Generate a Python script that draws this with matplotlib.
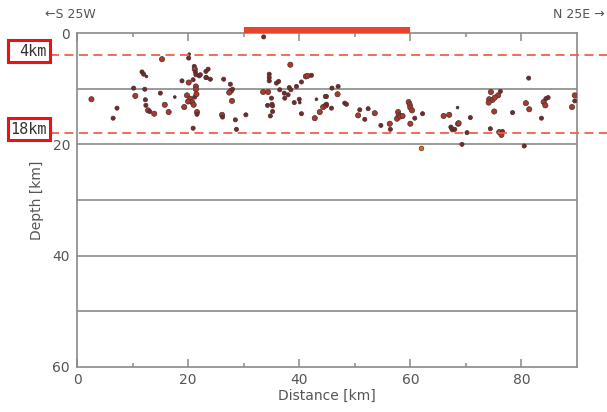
import numpy as np
import matplotlib
matplotlib.use("Agg")
import matplotlib.pyplot as plt
from matplotlib.patches import Rectangle

# hypocentres: distance [km], depth [km], size class (1 small .. 3 large)
dist = [2.6, 6.5, 7.2, 11.7, 12.0, 12.5, 10.2, 10.5, 12.2, 12.3, 12.4, 12.8, 13.1, 13.9,
        15.3, 15.0, 15.8, 16.5, 17.6, 18.9, 19.3, 20.2, 20.1, 21.1, 21.2, 21.3, 21.4,
        22.0, 20.1, 20.9, 21.4, 21.4, 19.8, 20.4, 20.7, 21.0, 21.2, 21.5, 20.0, 21.6,
        21.6, 20.9, 23.2, 23.2,
        22.2, 23.6, 23.3, 24.0, 26.4, 27.6, 27.7, 28.0, 27.4, 27.9, 26.1, 26.2, 28.5,
        28.7, 30.4, 33.6, 33.5, 34.4, 34.6, 34.6, 34.6, 35.0, 35.1, 35.2, 35.2, 34.3,
        34.8, 35.9, 36.3, 36.5, 37.3, 37.4, 38.0, 38.2, 38.5, 38.4, 39.1, 39.5, 40.0,
        40.1, 40.4, 41.2, 41.5, 42.2, 40.4, 42.8, 43.1, 43.7, 44.3, 44.8, 44.9,
        45.9, 47.0, 44.7, 44.9, 45.8, 46.9, 48.2, 48.5, 50.6, 50.9, 51.8, 52.4, 53.6,
        54.7, 56.3, 56.4, 57.8, 57.9, 57.6, 58.2, 58.6, 59.7, 59.9, 60.0, 60.3, 60.0,
        60.8, 62.2, 62.0, 66.0, 67.0, 67.3, 67.6, 68.5, 68.6, 67.4, 68.0, 68.7, 70.2,
        70.8, 69.3,
        74.5, 76.2, 75.8, 74.2, 74.8, 74.1, 75.2, 75.1, 74.4, 76.0, 76.4, 76.6, 78.4,
        81.3, 80.8, 81.4, 80.5, 83.6, 84.0, 84.4, 84.8, 84.3, 89.6, 89.6, 89.1]
depth = [11.9, 15.3, 13.5, 7.0, 7.4, 7.8, 9.9, 11.3, 10.1, 12.0, 13.0, 13.9, 14.1, 14.5,
         4.7, 10.8, 12.9, 14.2, 11.5, 8.6, 13.3, 3.8, 4.5, 6.0, 6.5, 7.0, 7.5,
         7.7, 8.9, 8.4, 9.6, 10.1, 11.2, 11.8, 12.4, 12.9, 11.5, 11.0, 12.3, 14.2,
         14.6, 17.1, 8.0, 6.9,
         7.5, 6.5, 8.0, 8.3, 8.3, 9.2, 10.4, 10.1, 10.7, 12.2, 14.7, 15.1, 15.6,
         17.3, 14.7, 0.7, 10.6, 10.6, 7.4, 8.0, 8.6, 11.7, 12.8, 13.1, 14.1, 13.0,
         14.9, 9.0, 8.7, 10.2, 10.8, 11.7, 11.1, 9.8, 10.2, 5.7, 12.5, 9.6, 11.9,
         12.5, 8.8, 7.8, 7.7, 7.6, 14.5, 15.3, 11.9, 14.2, 13.3, 13.0, 11.4,
         9.9, 9.6, 11.4, 12.8, 13.5, 11.0, 12.6, 12.8, 14.8, 13.8, 15.5, 13.6, 14.4,
         16.6, 16.3, 17.3, 14.2, 14.8, 15.4, 15.0, 14.9, 12.4, 12.9, 13.4, 13.9, 16.3,
         15.3, 14.5, 20.7, 14.9, 14.7, 16.9, 17.4, 13.4, 16.3, 17.1, 17.3, 16.2, 17.9,
         15.2, 20.0,
         10.6, 10.5, 11.2, 11.9, 12.0, 12.5, 11.6, 14.1, 17.2, 17.8, 18.3, 17.7, 14.3,
         8.1, 12.6, 13.7, 20.3, 15.3, 12.4, 11.8, 11.6, 13.0, 11.2, 12.2, 13.3]
size_class = [3, 2, 2, 2, 2, 1, 2, 3, 2, 2, 2, 3, 2, 3,
              3, 2, 3, 3, 1, 2, 3, 1, 2, 2, 3, 2, 2,
              2, 3, 2, 3, 3, 3, 3, 3, 3, 2, 3, 3, 3,
              2, 2, 2, 2,
              2, 2, 2, 2, 2, 2, 3, 2, 3, 3, 3, 2, 2,
              2, 2, 2, 3, 3, 2, 2, 2, 2, 2, 2, 2, 2,
              2, 2, 2, 2, 2, 2, 2, 2, 2, 3, 2, 2, 2,
              1, 2, 3, 3, 2, 2, 3, 1, 3, 3, 3, 2,
              2, 2, 2, 2, 2, 3, 2, 2, 3, 2, 2, 2, 3,
              2, 3, 2, 3, 3, 3, 3, 3, 3, 3, 3, 3, 3,
              2, 2, 2, 3, 3, 2, 2, 1, 3, 2, 2, 3, 2,
              2, 2,
              3, 2, 3, 3, 3, 3, 3, 3, 2, 3, 3, 2, 2,
              2, 3, 3, 2, 2, 3, 2, 2, 3, 3, 2, 3]
orange_pts = [(62.0, 20.7)]

x_ticks = [0, 20, 40, 60, 80]
y_ticks = [0, 20, 40, 60]
grid_depths = [10, 20, 30, 40, 50]
ref_depths = [4, 18]
ref_labels = ["4km", "18km"]
bar_span = (30, 60)

GRAY = "#8a8a8a"
TXT = "#555555"

fig = plt.figure(figsize=(6.07, 4.12), dpi=100)
ax = fig.add_axes([77 / 607, 45 / 412, 500 / 607, 334 / 412])

for d in grid_depths:
    ax.axhline(d, color=GRAY, lw=1.2, zorder=1)

sizes = {1: 4, 2: 9, 3: 14}
fills = {1: "#5a2a2a", 2: "#742a28", 3: "#a83a2c"}
s = [sizes[c] for c in size_class]
fc = [fills[c] for c in size_class]
ax.scatter(dist, depth, s=s, c=fc, edgecolors="#4a3030", linewidths=0.5, zorder=3)
ax.scatter([p[0] for p in orange_pts], [p[1] for p in orange_pts], s=11,
           c="#c8702a", edgecolors="#8a5020", linewidths=0.5, zorder=3)

# reference depths, running past the frame to the labels
for d in ref_depths:
    ax.plot([-4.9, 96], [d, d], color="#f06050", lw=1.3, ls=(0, (5, 3)),
            clip_on=False, zorder=4)

# red bar on top of the section
ax.barh(-0.55, bar_span[1] - bar_span[0], left=bar_span[0], height=1.1,
        color="#e8442c", clip_on=False, zorder=5)

ax.set_xlim(0, 90)
ax.set_ylim(60, 0)
ax.set_xticks(x_ticks)
ax.set_xticks([10, 30, 50, 70], minor=True)
ax.set_yticks(y_ticks)
ax.tick_params(axis="x", which="major", direction="in", length=6, width=1.1,
               color=GRAY, top=True, labelcolor=TXT, labelsize=10, pad=4)
ax.tick_params(axis="x", which="minor", direction="in", length=3, width=1.1,
               color=GRAY, top=True)
ax.tick_params(axis="y", length=0, labelcolor=TXT, labelsize=10, pad=5)
for sp in ax.spines.values():
    sp.set_color(GRAY)
    sp.set_linewidth(1.2)

ax.set_xlabel("Distance [km]", color=TXT, fontsize=10, labelpad=2)
ax.set_ylabel("Depth [km]", color=TXT, fontsize=10, labelpad=6)

fig.text(45 / 607, 1 - 15 / 412, "\u2190S 25W", color=TXT, fontsize=9,
         ha="left", va="center")
fig.text(605 / 607, 1 - 15 / 412, "N 25E \u2192", color=TXT, fontsize=9,
         ha="right", va="center")

box_tops = [40, 118]
for lab, top in zip(ref_labels, box_tops):
    fig.patches.append(Rectangle((8 / 607, 1 - (top + 22) / 412), 42 / 607, 22 / 412,
                                 transform=fig.transFigure, fill=False,
                                 edgecolor="#ee1111", lw=2.2))
    fig.text(47 / 607, 1 - (top + 11) / 412, lab, color="#333333", fontsize=11,
             ha="right", va="center", family="DejaVu Sans Mono")

fig.savefig("out.png", dpi=100)
